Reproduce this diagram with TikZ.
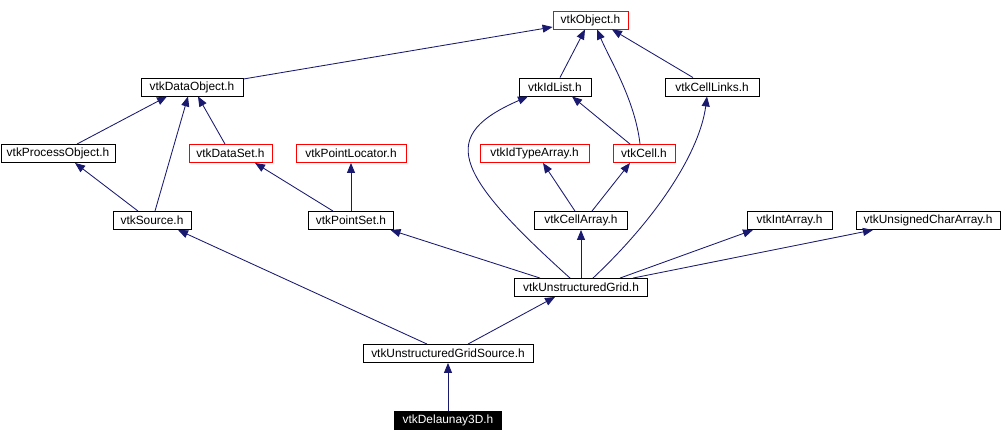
\documentclass[tikz,border=0pt]{standalone}
\usepackage{fontspec}
\setmainfont{Liberation Sans}
\usetikzlibrary{arrows.meta, positioning, calc}
\definecolor{edgeblue}{RGB}{25,25,112}

\begin{document}
\begin{tikzpicture}[
    x=1pt, y=-1pt,
    >={Triangle[length=10pt,width=8pt]},
    font=\fontsize{11.9}{13}\selectfont,
    base/.style={draw, rectangle, line width=0.9pt, minimum height=18pt, inner sep=0pt, text=black},
    cls/.style={base, draw=black},
    redcls/.style={base, draw=red},
    focus/.style={base, draw=black, fill=black, text=white},
    edge/.style={->, line width=0.85pt, edgeblue}
  ]
    \useasboundingbox (0,0) rectangle (1008,442);
    % top rows
    \node[redcls, minimum width=75pt]  (obj)   at (590.5,20)  {vtkObject.h};
    \node[cls, minimum width=102pt]    (dobj)  at (192,87)    {vtkDataObject.h};
    \node[cls, minimum width=72pt]     (idl)   at (555,87)    {vtkIdList.h};
    \node[cls, minimum width=94pt]     (links) at (712,87)    {vtkCellLinks.h};
    \node[cls, minimum width=114pt]    (proc)  at (58,153.5)  {vtkProcessObject.h};
    \node[redcls, minimum width=83pt]  (dset)  at (230.5,153.5) {vtkDataSet.h};
    \node[redcls, minimum width=110pt] (ploc)  at (351,153.5) {vtkPointLocator.h};
    \node[redcls, minimum width=109pt] (idta)  at (534.5,153.5) {vtkIdTypeArray.h};
    \node[redcls, minimum width=62pt]  (cell)  at (644,153.5) {vtkCell.h};
    % middle rows
    \node[cls, minimum width=78pt]     (src)   at (152,220.5) {vtkSource.h};
    \node[cls, minimum width=85pt]     (pset)  at (351,220.5) {vtkPointSet.h};
    \node[cls, minimum width=93pt]     (carr)  at (581,220.5) {vtkCellArray.h};
    \node[cls, minimum width=85pt]     (iarr)  at (789.5,220.5) {vtkIntArray.h};
    \node[cls, minimum width=144pt]    (ucarr) at (928,220.5) {vtkUnsignedCharArray.h};
    \node[cls, minimum width=133pt]    (ug)    at (581,287.5) {vtkUnstructuredGrid.h};
    \node[cls, minimum width=170pt]    (ugs)   at (448,353.5) {vtkUnstructuredGridSource.h};
    \node[focus, minimum width=107pt]  (del)   at (448,420)   {vtkDelaunay3D.h};

    \draw[edge] ([yshift=8pt]dobj.east) -- ([yshift=-7pt]obj.west);
    \draw[edge] ([xshift=5pt]idl.north) -- ([xshift=-5.5pt]obj.south);
    \draw[edge] ([xshift=-4pt]cell.north) .. controls (635,100) and (610,60) .. ([xshift=6.5pt]obj.south);
    \draw[edge] ([xshift=-19pt]links.north) -- ([xshift=21.5pt]obj.south);
    \draw[edge] ([xshift=19pt]proc.north) -- ([xshift=-25pt]dobj.south);
    \draw[edge] ([xshift=3pt]src.north) -- ([xshift=-4pt]dobj.south);
    \draw[edge] ([xshift=-5.5pt]dset.north) -- ([xshift=6pt]dobj.south);
    \draw[edge] ([xshift=-14pt]src.north) -- ([xshift=17pt]proc.south);
    \draw[edge] ([xshift=-18pt]pset.north) -- ([xshift=24.5pt]dset.south);
    \draw[edge] (pset.north) -- (ploc.south);
    \draw[edge] ([xshift=-14pt]cell.north) -- ([xshift=17pt]idl.south);
    \draw[edge] ([xshift=-6pt]carr.north) -- ([xshift=8.5pt]idta.south);
    \draw[edge] ([xshift=11pt]carr.north) -- ([xshift=-14pt]cell.south);
    \draw[edge] ([xshift=-11pt]ug.north) .. controls (450,170) and (440,135) .. ([xshift=-27pt]idl.south);
    \draw[edge] ([xshift=12pt]ug.north) .. controls (660,215) and (700,150) .. ([xshift=-5pt]links.south);
    \draw[edge] ([xshift=-41pt]ug.north) -- ([xshift=39.5pt]pset.south);
    \draw[edge] (ug.north) -- (carr.south);
    \draw[edge] ([xshift=39pt]ug.north) -- ([xshift=-36.5pt]iarr.south);
    \draw[edge] ([xshift=52pt]ug.north) -- ([xshift=-55pt]ucarr.south);
    \draw[edge] ([xshift=-21pt]ugs.north) -- ([xshift=26pt]src.south);
    \draw[edge] ([xshift=20pt]ugs.north) -- ([xshift=-26pt]ug.south);
    \draw[edge] (del.north) -- (ugs.south);
  \end{tikzpicture}
\end{document}
